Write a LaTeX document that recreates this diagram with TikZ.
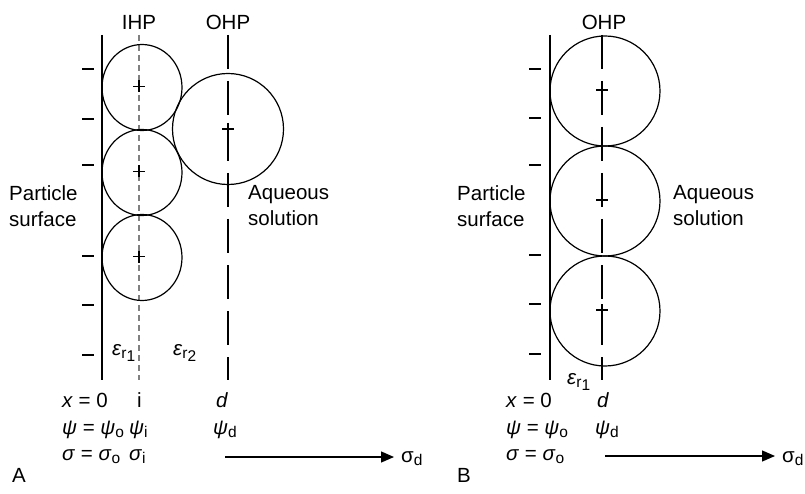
\documentclass[tikz,border=0pt]{standalone}
\usepackage{fontspec}
\setmainfont{Liberation Sans}
\usetikzlibrary{arrows.meta,positioning}
\newcommand\lo[1]{\raisebox{-0.35ex}{\fontsize{15.5}{15.5}\selectfont #1}}
\tikzset{
  lbl/.style={inner sep=0pt, anchor=base west, font=\fontsize{20.5}{26}\selectfont},
  wall/.style={line width=1.2pt},
  ihp/.style={line width=1.2pt, draw=gray, dash pattern=on 6pt off 4pt},
  ohp/.style={line width=1.2pt, dash pattern=on 34pt off 12pt},
  ion/.style={line width=1.2pt},
  chg/.style={line width=1.5pt},
  arr/.style={-{Triangle[length=13pt,width=11pt]}, line width=1.3pt},
}
\begin{document}
\begin{tikzpicture}[x=1pt,y=-1pt]
    \useasboundingbox (0,0) rectangle (805,494);
    % panel A
    \coordinate (a1) at (142,87.5);
    \coordinate (a2) at (142,172.5);
    \coordinate (a3) at (142,257.5);
    \coordinate (ab) at (228,129);
    \draw[wall] (102,35) coordinate (wA) -- (102,380);
    \draw[ihp] (139,35) coordinate (iA) -- (139,380);
    \draw[ohp] (228,35) coordinate (oA) -- (228,380);
    \foreach \c in {a1,a2,a3}{
      \draw[ion] (\c) ellipse[x radius=40pt, y radius=43pt];
      \draw[chg] (\c) +(-9,-1) -- +(3,-1) +(-3,-7) -- +(-3,5);
    }
    \draw[ion] (ab) circle[radius=55.5pt];
    \draw[chg] (ab) +(-6,0) -- +(6,0) +(0,-6) -- +(0,6);
    \foreach \y in {69,119,165,256,305,355}
      \draw[chg] (82,\y) -- (94,\y);
    \node[lbl, anchor=base] (ihpA) at (139,30) {IHP};
    \node[lbl, anchor=base] (ohpA) at (228,30) {OHP};
    \node[lbl, align=left, anchor=north west] (partA) at (9,185) {Particle\\surface};
    \node[lbl, align=left, anchor=north west] (aqA) at (248,185) {Aqueous\\solution};
    \node[lbl] (er1A) at (112,355) {\textit{ε}\lo{r\lo{1}}};
    \node[lbl] (er2A) at (173,355) {\textit{ε}\lo{r\lo{2}}};
    \node[lbl] (xA) at (62,407) {\textit{x} = 0};
    \node[lbl] (iiA) at (137,407) {i};
    \node[lbl] (dA) at (216,407) {\textit{d}};
    \node[lbl] (psiA) at (62,434) {\textit{ψ} = \textit{ψ}\lo{o}};
    \node[lbl] (psiiA) at (129,434) {\textit{ψ}\lo{i}};
    \node[lbl] (psidA) at (213,434) {\textit{ψ}\lo{d}};
    \node[lbl] (sigA) at (62,460) {\textit{σ} = \textit{σ}\lo{o}};
    \node[lbl] (sigiA) at (129,460) {\textit{σ}\lo{i}};
    \node[lbl] (sdA) at (401,462) {σ\lo{d}};
    \coordinate (arA) at (225,457);
    \draw[arr] (arA) -- ([xshift=-7pt]sdA.west |- arA);
    \node[lbl] (tagA) at (12,482) {A};
    % panel B
    \coordinate (b1) at (605,91);
    \coordinate (b2) at (605,201);
    \coordinate (b3) at (605,311);
    \draw[wall] (550,35) coordinate (wB) -- (550,380);
    \draw[ohp] (602,35) coordinate (oB) -- (602,380);
    \foreach \c in {b1,b2,b3}{
      \draw[ion] (\c) circle[radius=55pt];
      \draw[chg] (\c) +(-9,-1) -- +(3,-1) +(-3,-7) -- +(-3,5);
    }
    \foreach \y in {69,118,165,255,304,354}
      \draw[chg] (529,\y) -- (541,\y);
    \node[lbl, anchor=base] (ohpB) at (604,30) {OHP};
    \node[lbl, align=left, anchor=north west] (partB) at (457,185) {Particle\\surface};
    \node[lbl, align=left, anchor=north west] (aqB) at (673,185) {Aqueous\\solution};
    \node[lbl] (er1B) at (567,384) {\textit{ε}\lo{r\lo{1}}};
    \node[lbl] (xB) at (506,407) {\textit{x} = 0};
    \node[lbl] (dB) at (597,407) {\textit{d}};
    \node[lbl] (psiB) at (506,434) {\textit{ψ} = \textit{ψ}\lo{o}};
    \node[lbl] (psidB) at (595,434) {\textit{ψ}\lo{d}};
    \node[lbl] (sigB) at (506,460) {\textit{σ} = \textit{σ}\lo{o}};
    \node[lbl] (sdB) at (782,462) {σ\lo{d}};
    \coordinate (arB) at (605,456);
    \draw[arr] (arB) -- ([xshift=-7pt]sdB.west |- arB);
    \node[lbl] (tagB) at (457,482) {B};
\end{tikzpicture}
\end{document}
